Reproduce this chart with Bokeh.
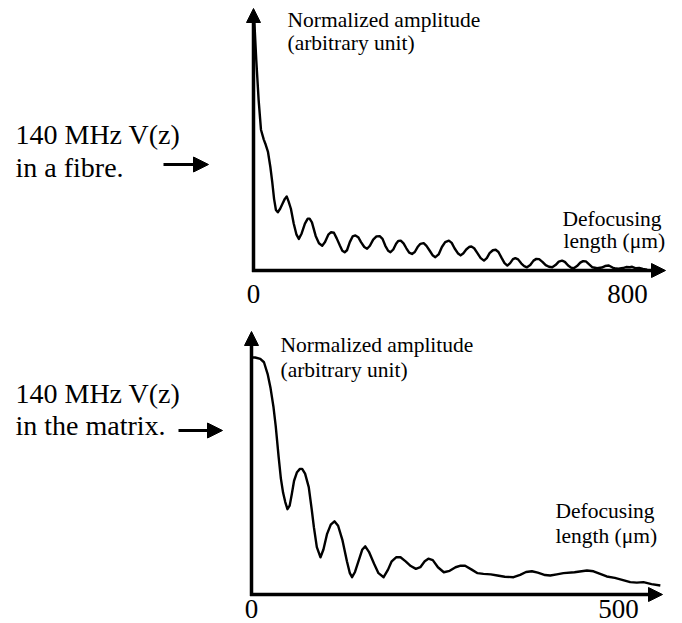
from bokeh.plotting import figure
from bokeh.models import Range1d, Arrow, NormalHead, Label
from bokeh.layouts import column
from bokeh.core.properties import value
from bokeh.embed import file_html
from bokeh.resources import INLINE

FONT = "Liberation Serif"
W = 682
PAGE = 0  # Bokeh's page template has no body margin
BASE_FIX = 0.43  # svg text sits lower than the requested baseline by ~0.43 * font size
TITLE_SIZE = 21.5
CAP_SIZE = 28
TICK_SIZE = 27

# ---------------- data ----------------
fibre_z = [0, 2, 6, 11, 16, 22, 26, 31, 36, 40, 44, 48, 52, 57, 62, 67, 71, 75, 80, 86, 92, 97,
           103, 110, 116, 120, 125, 133, 140, 147, 153, 160, 166, 172, 178, 185, 190, 195,
           200, 206, 212, 218, 224, 230, 237, 243, 249, 256, 263, 270, 276, 282, 288, 293,
           299, 305, 310, 315, 321, 327, 333, 339, 345, 351, 357, 364, 370, 377, 383, 389,
           396, 403, 410, 418, 424, 430, 437, 443, 449, 455, 461, 466, 472, 479, 486, 493,
           499, 505, 512, 518, 524, 531, 537, 543, 549, 555, 560, 566, 573, 579, 585,
           592, 599, 605, 611, 618, 625, 632, 639, 646, 653, 660, 666, 673, 679, 685,
           692, 699, 705, 711, 718, 725, 735, 745, 752, 760, 768, 775, 781, 790, 797,
           805, 810, 818, 825, 833, 842]
fibre_amp = [0.98, 1.0, 0.85, 0.69, 0.57, 0.53, 0.51, 0.48, 0.42, 0.36, 0.29, 0.245, 0.236, 0.25,
             0.27, 0.29, 0.30, 0.28, 0.25, 0.19, 0.145, 0.128,
             0.15, 0.19, 0.21, 0.21, 0.195, 0.14, 0.11, 0.10, 0.115, 0.145, 0.155, 0.153, 0.13,
             0.10, 0.08, 0.074,
             0.082, 0.115, 0.138, 0.142, 0.135, 0.115, 0.095, 0.088, 0.10, 0.125, 0.138, 0.139,
             0.128, 0.10, 0.08, 0.074,
             0.085, 0.108, 0.12, 0.121, 0.11, 0.09, 0.072, 0.067, 0.075, 0.095, 0.108, 0.111,
             0.10, 0.08, 0.062, 0.054,
             0.065, 0.095, 0.115, 0.121, 0.112, 0.09, 0.07, 0.061, 0.07, 0.085, 0.095, 0.097,
             0.09, 0.07, 0.05, 0.04,
             0.05, 0.07, 0.082, 0.084, 0.075, 0.05, 0.03, 0.02, 0.03, 0.046, 0.05, 0.045,
             0.028, 0.018, 0.013,
             0.022, 0.04, 0.047, 0.046, 0.035, 0.022, 0.015, 0.013, 0.022, 0.036, 0.040, 0.035,
             0.02, 0.012, 0.009,
             0.018, 0.032, 0.038, 0.037, 0.025, 0.013, 0.009, 0.012, 0.018, 0.02, 0.012, 0.008,
             0.007, 0.01, 0.014,
             0.013, 0.015, 0.009, 0.01, 0.006, 0.003]

matrix_z = [0, 5, 12, 17, 22, 26, 30, 33, 37, 40, 43, 46, 49, 52, 55, 58, 62, 66, 69, 73, 78,
            82, 85, 89, 94, 98, 103, 108, 113, 118, 124, 130, 134, 137, 141, 146, 151, 155,
            160, 167, 173, 180, 186, 191, 197, 203, 210, 217, 224, 230, 236, 241, 247, 254,
            262, 270, 278, 285, 291, 300, 308, 316, 326, 335, 345, 357, 366, 374, 382, 390,
            400, 407, 416, 425, 440, 457, 466, 475, 484, 495, 505, 516, 525, 534, 545, 557]
matrix_amp = [1.0, 1.0, 0.994, 0.98, 0.93, 0.87, 0.79, 0.71, 0.58, 0.49, 0.43, 0.39, 0.36, 0.375,
              0.425, 0.48, 0.516, 0.53, 0.53, 0.51, 0.453,
              0.36, 0.284, 0.2, 0.157, 0.19, 0.256, 0.295, 0.309, 0.29, 0.228, 0.14, 0.09, 0.073,
              0.095, 0.143, 0.19, 0.203,
              0.18, 0.13, 0.09, 0.073, 0.105, 0.14, 0.157, 0.157, 0.14, 0.12, 0.108, 0.115, 0.14,
              0.151, 0.145, 0.115,
              0.094, 0.1, 0.115, 0.122, 0.121, 0.105, 0.09, 0.087, 0.085, 0.08, 0.075, 0.073,
              0.083, 0.095, 0.098, 0.092,
              0.082, 0.080, 0.085, 0.09, 0.094, 0.101, 0.098, 0.087, 0.076, 0.07, 0.062, 0.052,
              0.05, 0.052, 0.044, 0.038]

fibre_ticks = [0, 800]
matrix_ticks = [0, 500]

fibre_caption = ["140 MHz V(z)", "in a fibre."]
matrix_caption = ["140 MHz V(z)", "in the matrix."]
y_title = ["Normalized amplitude", "(arbitrary unit)"]
x_title = ["Defocusing", "length (\u03bcm)"]


def panel(top, H, ox, oy, sx, sy, z, amp, ticks, caption, cap_base, arrow_x, arrow_y,
          ytitle_pos, xtitle_pos, x_tip, y_tip, tick_base):
    # page pixel -> data conversions (layout only)
    X = lambda px: (px - ox) / sx
    Y = lambda py: (oy - py) / sy
    TY = lambda base, size: Y(base - BASE_FIX * size)
    p = figure(width=W, height=H, output_backend="svg", toolbar_location=None,
               x_range=Range1d(X(PAGE), X(PAGE + W)), y_range=Range1d(Y(top + H), Y(top)),
               x_axis_type=None, y_axis_type=None, min_border=0)
    p.grid.visible = False
    p.outline_line_color = None

    # axes as arrows
    p.add_layout(Arrow(end=NormalHead(size=14, fill_color="black", line_color="black"),
                       x_start=0, y_start=Y(oy + 1.5), x_end=0, y_end=Y(y_tip),
                       line_width=3.5, line_color="black"))
    p.add_layout(Arrow(end=NormalHead(size=14, fill_color="black", line_color="black"),
                       x_start=X(ox - 1.5), y_start=0, x_end=X(x_tip), y_end=0,
                       line_width=3.5, line_color="black"))

    # curve
    p.line(z, amp, line_width=2.4, line_color="black", line_join="round")

    # tick labels
    p.text(x=ticks, y=[TY(tick_base, TICK_SIZE)] * len(ticks), text=[str(t) for t in ticks],
           text_align="center", text_baseline="alphabetic",
           text_font=value(FONT), text_font_size=f"{TICK_SIZE}px", text_color="black")

    # axis titles
    for (lx, lb), txt in list(zip(ytitle_pos, y_title)) + list(zip(xtitle_pos, x_title)):
        p.add_layout(Label(x=X(lx), y=TY(lb, TITLE_SIZE), text=txt, text_font=FONT,
                           text_font_size=f"{TITLE_SIZE}px", text_align="left",
                           text_baseline="alphabetic", text_color="black"))

    # left caption + arrow
    for lb, txt in zip(cap_base, caption):
        p.add_layout(Label(x=X(15), y=TY(lb, CAP_SIZE), text=txt, text_font=FONT,
                           text_font_size=f"{CAP_SIZE}px", text_align="left",
                           text_baseline="alphabetic", text_color="black"))
    p.add_layout(Arrow(end=NormalHead(size=15, fill_color="black", line_color="black"),
                       x_start=X(arrow_x[0]), y_start=Y(arrow_y), x_end=X(arrow_x[1]),
                       y_end=Y(arrow_y), line_width=3, line_color="black"))
    return p


p1 = panel(top=0, H=312, ox=253, oy=270, sx=374 / 800, sy=247,
           z=fibre_z, amp=fibre_amp, ticks=fibre_ticks, caption=fibre_caption,
           cap_base=[146, 179], arrow_x=(163, 208), arrow_y=164,
           ytitle_pos=[(287, 29), (287, 52)], xtitle_pos=[(562, 228), (563, 250)],
           x_tip=665, y_tip=8, tick_base=305)

p2 = panel(top=312, H=311, ox=251, oy=594, sx=367 / 500, sy=237,
           z=matrix_z, amp=matrix_amp, ticks=matrix_ticks, caption=matrix_caption,
           cap_base=[405, 437], arrow_x=(178, 222), arrow_y=430,
           ytitle_pos=[(280, 354), (280, 379)], xtitle_pos=[(555, 520), (555, 545)],
           x_tip=662, y_tip=331, tick_base=620)

layout = column(p1, p2, spacing=0)
open("out.html", "w").write(file_html(layout, INLINE))
